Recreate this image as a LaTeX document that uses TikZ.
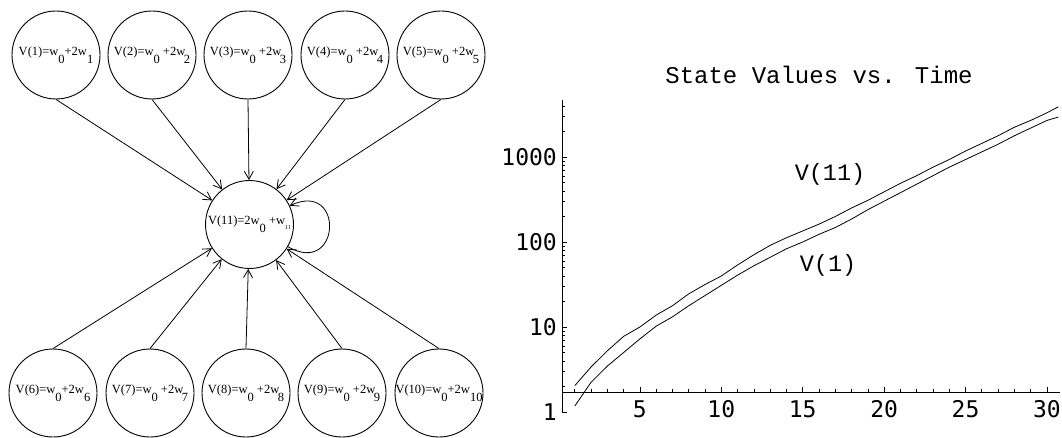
\documentclass[tikz,border=0pt]{standalone}
\usepackage{fontspec}
\setmainfont{Liberation Serif}
\newfontfamily\plotfont{Liberation Mono}
\newfontfamily\tickfont{DejaVu Sans Mono}
\usetikzlibrary{arrows.meta}
\newcommand\lo[1]{\raisebox{-8pt}{#1}}
\newcommand\vtext[1]{\makebox[0pt]{\fontsize{12.5}{14}\selectfont #1}}

\begin{document}
\begin{tikzpicture}[x=1pt,y=1pt]
    \tikzset{
        vertex/.style={draw, circle, line width=0.9pt, minimum size=88pt, inner sep=0pt},
        arc/.style={-{Straight Barb[length=8pt,width=9pt]}, line width=0.8pt},
        curve/.style={line width=0.8pt},
        tick/.style={line width=0.6pt},
        ticklabel/.style={font=\tickfont\fontsize{23}{23}\selectfont, inner sep=0pt},
        plotlabel/.style={font=\plotfont\fontsize{23.5}{24}\selectfont, inner sep=0pt}
    }
    \useasboundingbox (0,0) rectangle (1062,437);

    % graph
    \draw node[vertex] (v1) at (56,382) {\vtext{V(1)=w\lo{0}+2w\lo{1}}};
    \draw node[vertex] (v2) at (152,382) {\vtext{V(2)=w\lo{0} +2w\kern-1.5pt\lo{2}}};
    \draw node[vertex] (v3) at (248,382) {\vtext{V(3)=w\lo{0} +2w\kern-1.5pt\lo{3}}};
    \draw node[vertex] (v4) at (345,382) {\vtext{V(4)=w\lo{0} +2w\kern-1.5pt\lo{4}}};
    \draw node[vertex] (v5) at (441,382) {\vtext{V(5)=w\lo{0} +2w\kern-1.5pt\lo{5}}};
    \draw node[vertex] (v6) at (53,44) {\vtext{V(6)=w\lo{0}+2w\lo{6}}};
    \draw node[vertex] (v7) at (150,44) {\vtext{V(7)=w\lo{0} +2w\kern-1.5pt\lo{7}}};
    \draw node[vertex] (v8) at (246,44) {\vtext{V(8)=w\lo{0} +2w\kern-1.5pt\lo{8}}};
    \draw node[vertex] (v9) at (342,44) {\vtext{V(9)=w\lo{0} +2w\kern-1.5pt\lo{9}}};
    \draw node[vertex] (v10) at (439,44) {\vtext{V(10)=w\lo{0}+2w\lo{10}}};
    \draw node[vertex] (v11) at (249.5,212.5) {\vtext{V(11)=2w\lo{0} +w\raisebox{-5pt}{\fontsize{6}{6}\selectfont 11}}};

    \foreach \i in {1,...,5}{
        \draw (v\i.south) edge[arc] (v11);
    }
    \foreach \i in {6,...,10}{
        \draw (v\i.north) edge[arc] (v11);
    }
    \draw (v11) edge[arc, out=-30, in=25, looseness=3.8] (v11);

    % plot
    \node[plotlabel, font=\plotfont\fontsize{24}{24}\selectfont] (title) at (819,362) {State Values vs. Time};
    \node[plotlabel] (lbl11) at (830,263) {V(11)};
    \node[plotlabel] (lbl1) at (828,172) {V(1)};

    \begin{scope}[shift={(558.5,25)}, x=16.28pt, y=85pt]
        \draw[tick] (0.215,0) -- (0.215,3.67);
        \draw[tick] (0.215,0.235) -- (30.8,0.235);
        \foreach \d in {0,1,2,3}{
            \draw[tick] (0.215,\d) -- ++(5pt,0);
            \node[ticklabel, anchor=east] (y\d) at ([xshift=-5pt]0.215,\d) {\pgfmathparse{int(10^\d)}\pgfmathresult};
            \foreach \k in {2,...,9}{
                \pgfmathsetmacro\L{\d+log10(\k)}
                \ifdim\L pt<3.67pt \draw[tick] (0.215,\L) -- ++(2.5pt,0); \fi
            }
        }
        \foreach \t in {1,...,30}{
            \draw[tick] (\t,0.235) -- ++(0,3pt);
        }
        \foreach \t in {5,10,...,30}{
            \draw[tick] (\t,0.235) -- ++(0,5pt);
            \node[ticklabel] (x\t) at (\t,0.03) {\t};
        }
        \draw[curve] plot coordinates {(1,0.31) (2,0.53) (3,0.72) (4,0.89) (5,1.00)
            (6,1.14) (7,1.25) (8,1.39) (9,1.50) (10,1.60) (11,1.73) (12,1.85)
            (13,1.96) (14,2.05) (15,2.13) (16,2.21) (17,2.30) (18,2.40) (19,2.49)
            (20,2.59) (21,2.69) (22,2.78) (23,2.88) (24,2.97) (25,3.07) (26,3.16)
            (27,3.25) (28,3.35) (29,3.43) (30,3.52) (30.7,3.59)};
        \draw[curve] plot coordinates {(1,0.07) (2,0.35) (3,0.54) (4,0.70) (5,0.86)
            (6,1.01) (7,1.12) (8,1.25) (9,1.37) (10,1.49) (11,1.61) (12,1.72)
            (13,1.82) (14,1.92) (15,2.00) (16,2.09) (17,2.17) (18,2.27) (19,2.38)
            (20,2.48) (21,2.58) (22,2.68) (23,2.78) (24,2.88) (25,2.97) (26,3.06)
            (27,3.15) (28,3.25) (29,3.34) (30,3.43) (30.7,3.47)};
    \end{scope}
\end{tikzpicture}
\end{document}
